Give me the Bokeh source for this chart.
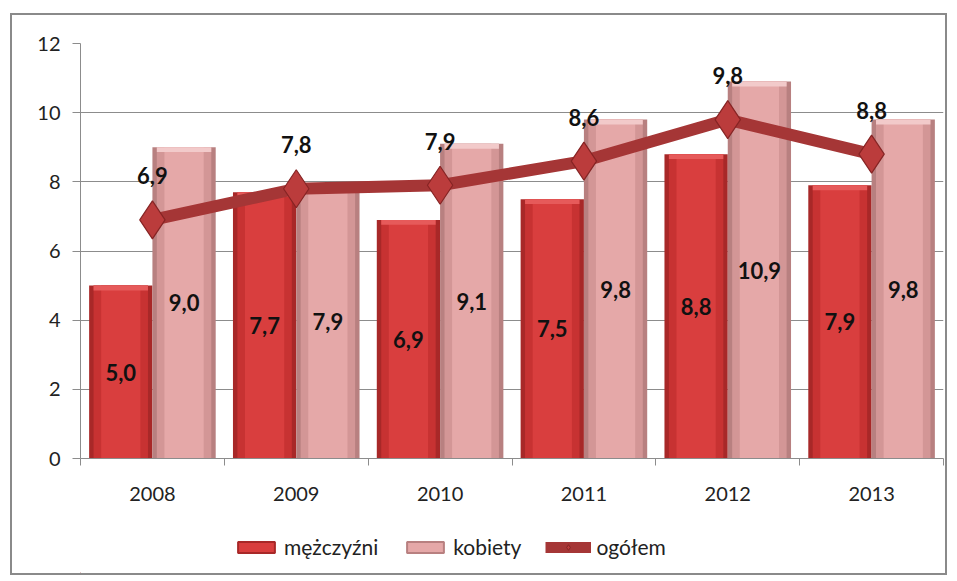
from bokeh.plotting import figure
from bokeh.models import ColumnDataSource, FixedTicker, Legend, LegendItem, Range1d
from bokeh.layouts import column
from bokeh.transform import dodge
from bokeh.core.properties import value
from bokeh.embed import file_html
from bokeh.resources import INLINE

years = ["2008", "2009", "2010", "2011", "2012", "2013"]
men = [5.0, 7.7, 6.9, 7.5, 8.8, 7.9]
women = [9.0, 7.9, 9.1, 9.8, 10.9, 9.8]
total = [6.9, 7.8, 7.9, 8.6, 9.8, 8.8]
series_names = ["mężczyźni", "kobiety", "ogółem"]

fmt = lambda v: f"{v:.1f}".replace(".", ",")
xs = [i + 0.5 for i in range(len(years))]
BEV = 0.14
src = ColumnDataSource(dict(
    x=xs, men=men, women=women, total=total,
    men_bev=[v - BEV for v in men], women_bev=[v - BEV for v in women],
    men_mid=[v / 2 for v in men], women_mid=[v / 2 for v in women],
    men_lbl=[fmt(v) for v in men], women_lbl=[fmt(v) for v in women],
    total_lbl=[fmt(v) for v in total],
))

FONT = "Lato"
MEN_EDGE, MEN_MID, MEN_FILL, MEN_TOP = "#a82828", "#c73232", "#d93e3e", "#e65a5a"
WOM_EDGE, WOM_MID, WOM_FILL, WOM_TOP = "#b88080", "#d39696", "#e5a8a8", "#f2caca"
TOT_LINE, TOT_FILL, TOT_EDGE = "#a53636", "#bb3c3c", "#862424"

p = figure(width=933, height=488, output_backend="svg", toolbar_location=None,
           x_range=Range1d(0, len(years)), y_range=Range1d(0, 12),
           min_border_left=68, min_border_right=2, min_border_top=28, min_border_bottom=0,
           background_fill_color="white", border_fill_color="white")
p.outline_line_color = None

p.xgrid.grid_line_color = None
p.ygrid.grid_line_color = "#8c8c8c"
p.ygrid.grid_line_width = 1
p.ygrid.ticker = FixedTicker(ticks=list(range(0, 13, 2)))

OFF, BW = 0.22, 0.44
for off, top, bev, cols in ((-OFF, "men", "men_bev", (MEN_EDGE, MEN_MID, MEN_FILL, MEN_TOP)),
                            (OFF, "women", "women_bev", (WOM_EDGE, WOM_MID, WOM_FILL, WOM_TOP))):
    xd = dodge("x", off)
    p.vbar(x=xd, top=top, width=BW, source=src, fill_color=cols[0], line_color=None)
    p.vbar(x=xd, top=top, width=BW * 0.86, source=src, fill_color=cols[1], line_color=None)
    p.vbar(x=xd, top=top, width=BW * 0.62, source=src, fill_color=cols[2], line_color=None)
    p.vbar(x=xd, top=top, bottom=bev, width=BW * 0.86, source=src, fill_color=cols[3], line_color=None)

p.line("x", "total", source=src, line_color=TOT_LINE, line_width=12)
p.scatter("x", "total", source=src, marker="diamond", size=38,
          fill_color=TOT_FILL, line_color=TOT_EDGE, line_width=1.2)

lbl = dict(text_font=value(FONT), text_font_style="bold", text_font_size="22px",
           text_color="#111111", text_align="center", text_baseline="middle")
p.text(x=dodge("x", -OFF), y="men_mid", text="men_lbl", source=src, **lbl)
p.text(x=dodge("x", OFF), y="women_mid", text="women_lbl", source=src, **lbl)
p.text(x="x", y="total", text="total_lbl", source=src, y_offset=-44, **lbl)

p.yaxis.ticker = FixedTicker(ticks=list(range(0, 13, 2)))
p.yaxis.axis_line_color = "#8c8c8c"
p.yaxis.major_tick_line_color = "#8c8c8c"
p.yaxis.major_tick_out = 8
p.yaxis.major_tick_in = 0
p.yaxis.minor_tick_line_color = None
p.yaxis.major_label_text_font = FONT
p.yaxis.major_label_text_font_size = "20px"
p.yaxis.major_label_text_color = "#222222"
p.yaxis.major_label_standoff = 12

p.xaxis.ticker = FixedTicker(ticks=xs, minor_ticks=list(range(0, len(years) + 1)))
p.xaxis.major_label_overrides = {x: y for x, y in zip(xs, years)}
p.xaxis.axis_line_color = "#8c8c8c"
p.xaxis.major_tick_line_color = None
p.xaxis.minor_tick_line_color = "#8c8c8c"
p.xaxis.minor_tick_out = 7
p.xaxis.minor_tick_in = 0
p.xaxis.major_label_text_font = FONT
p.xaxis.major_label_text_font_size = "20px"
p.xaxis.major_label_text_color = "#222222"
p.xaxis.major_label_standoff = 21

# legend strip
lg = figure(width=933, height=70, output_backend="svg", toolbar_location=None,
            x_range=Range1d(0, 1), y_range=Range1d(0, 1),
            min_border=0, background_fill_color="white", border_fill_color="white")
lg.outline_line_color = None
lg.axis.visible = False
lg.grid.visible = False
hidden = ColumnDataSource(dict(x=[-5], y=[-5]))
l_men = lg.vbar(x="x", top="y", width=0.1, source=hidden, fill_color=MEN_FILL, line_color=MEN_EDGE, line_width=2)
l_wom = lg.vbar(x="x", top="y", width=0.1, source=hidden, fill_color=WOM_FILL, line_color=WOM_EDGE, line_width=2)
l_line = lg.line("x", "y", source=hidden, line_color=TOT_LINE, line_width=11)
l_mk = lg.scatter("x", "y", source=hidden, marker="diamond", size=20,
                  fill_color=TOT_FILL, line_color=TOT_EDGE, line_width=1)
legend = Legend(items=[
    LegendItem(label=series_names[0], renderers=[l_men]),
    LegendItem(label=series_names[1], renderers=[l_wom]),
    LegendItem(label=series_names[2], renderers=[l_line, l_mk]),
], orientation="horizontal", location=(153, 14), border_line_color=None,
    background_fill_alpha=0, label_text_font=FONT, label_text_font_size="21px",
    label_text_color="#222222", glyph_width=46, glyph_height=14, spacing=24,
    label_standoff=5, margin=0, padding=4)
lg.add_layout(legend, "center")

layout = column(p, lg, spacing=0)
layout.styles = {"outline": "2px solid #8a8a8a", "margin-left": "12px", "margin-top": "15px"}

open("out.html", "w").write(file_html(layout, INLINE))
